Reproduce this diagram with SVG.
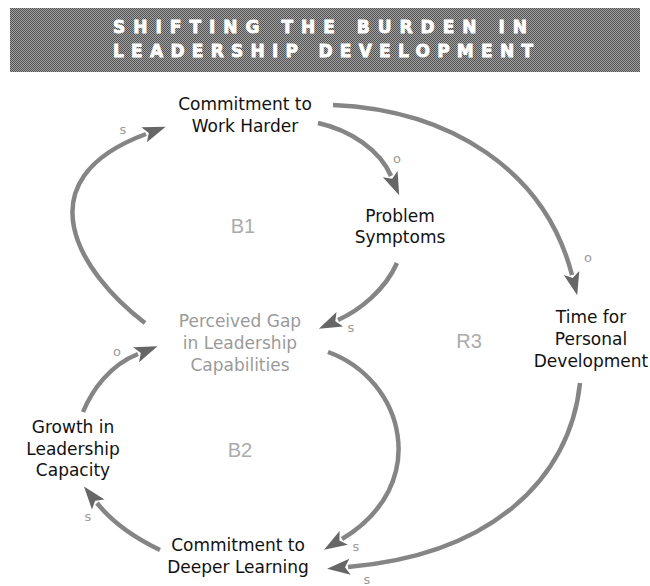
<svg xmlns="http://www.w3.org/2000/svg" width="650" height="586" viewBox="0 0 650 586">
<style>
.node text{font-family:"DejaVu Sans","Liberation Sans",sans-serif;font-size:17px;fill:#111;text-anchor:middle}
.node.gray text{fill:#9a9a9a}
.loop{font-family:"Liberation Sans",sans-serif;font-size:20px;fill:#ababab;text-anchor:middle}
.pol{font-family:"DejaVu Sans",sans-serif;font-size:13px;fill:#9a9a9a;text-anchor:middle}
.title{font-family:"DejaVu Sans",sans-serif;font-weight:bold;font-size:17px;fill:#fff;stroke:#fff;stroke-width:0.8}
#connectors path{fill:none;stroke:#858585;stroke-width:4.5;marker-end:url(#ah)}
</style>
<defs>
<pattern id="dither" width="2" height="2" patternUnits="userSpaceOnUse">
<rect width="2" height="2" fill="#a4a4a4"/>
<rect width="1" height="1" fill="#505050"/>
<rect x="1" y="1" width="1" height="1" fill="#505050"/>
</pattern>
<marker id="ah" markerUnits="userSpaceOnUse" markerWidth="26" markerHeight="20" viewBox="0 -10 26 20" refX="2" refY="0" orient="auto">
<path d="M0,-8 L23,0 L0,8 L5,0 Z" fill="#666"/>
</marker>
</defs>
<g id="title">
<rect x="10" y="8" width="630" height="64" fill="url(#dither)"/>
<text class="title" x="113" y="33" textLength="414" lengthAdjust="spacing">SHIFTING THE BURDEN IN</text>
<text class="title" x="113" y="57" textLength="420" lengthAdjust="spacing">LEADERSHIP DEVELOPMENT</text>
</g>
<g id="connectors">
<path d="M145,323 C78,272 22,180 146,134"/>
<path d="M318,123 C350,130 380,150 391,176"/>
<path d="M333,105 C450,110 545,170 572,275"/>
<path d="M397,263 C385,290 360,310 338,320"/>
<path d="M328,352 C405,380 432,485 342,539"/>
<path d="M580,383 C570,480 490,555 348,567"/>
<path d="M160,550 C135,538 112,522 97,503"/>
<path d="M83,412 C92,390 110,365 138,354"/>
</g>
<g id="node-work-harder" class="node"><text x="245" y="110">Commitment to</text><text x="245" y="132">Work Harder</text></g>
<g id="node-problem" class="node"><text x="400" y="222">Problem</text><text x="400" y="243">Symptoms</text></g>
<g id="node-gap" class="node gray"><text x="240" y="327">Perceived Gap</text><text x="240" y="349">in Leadership</text><text x="240" y="371">Capabilities</text></g>
<g id="node-time" class="node"><text x="591" y="323">Time for</text><text x="591" y="345">Personal</text><text x="591" y="367">Development</text></g>
<g id="node-growth" class="node"><text x="73" y="433">Growth in</text><text x="73" y="455">Leadership</text><text x="73" y="476">Capacity</text></g>
<g id="node-deeper" class="node"><text x="238" y="551">Commitment to</text><text x="238" y="573">Deeper Learning</text></g>
<g id="loops">
<text class="loop" x="243" y="233">B1</text>
<text class="loop" x="469" y="348">R3</text>
<text class="loop" x="240" y="457">B2</text>
</g>
<g id="polarities">
<text class="pol" x="123" y="134">s</text>
<text class="pol" x="397" y="163">o</text>
<text class="pol" x="588" y="262">o</text>
<text class="pol" x="351" y="332">s</text>
<text class="pol" x="356" y="551">s</text>
<text class="pol" x="367" y="584">s</text>
<text class="pol" x="117" y="356">o</text>
<text class="pol" x="88" y="521">s</text>
</g>
</svg>
